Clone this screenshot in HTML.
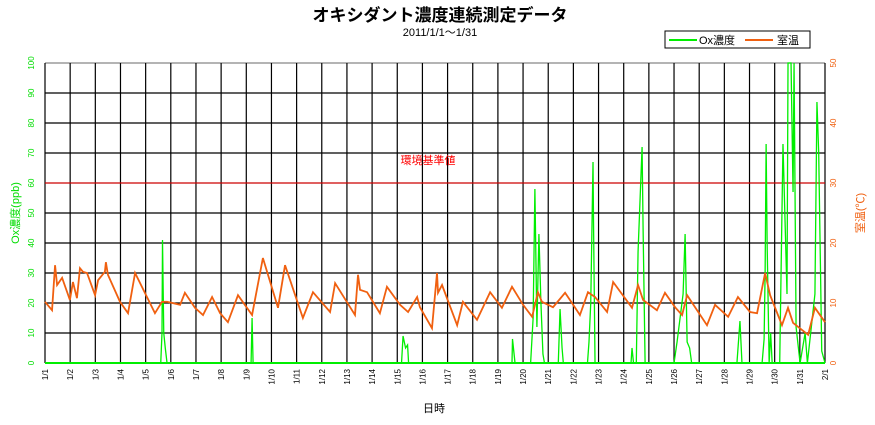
<!DOCTYPE html>
<html><head><meta charset="utf-8"><style>
body{margin:0;background:#fff;width:875px;height:420px;overflow:hidden;font-family:"Liberation Sans","Noto Sans CJK JP",sans-serif}
</style></head><body>
<svg id="c" width="875" height="420" xmlns="http://www.w3.org/2000/svg" style="font-family:'Liberation Sans','Noto Sans CJK JP',sans-serif">
<text x="440" y="21" text-anchor="middle" font-size="17" font-weight="bold">オキシダント濃度連続測定データ</text>
<text x="440" y="36" text-anchor="middle" font-size="11">2011/1/1～1/31</text>
<g>
<rect x="665" y="31" width="145" height="17" fill="#fff" stroke="#000"/>
<line x1="669" y1="40" x2="697" y2="40" stroke="#00ee00" stroke-width="2"/>
<text x="699" y="44" font-size="11">Ox濃度</text>
<line x1="745" y1="40" x2="773" y2="40" stroke="#f06010" stroke-width="2"/>
<text x="777" y="44" font-size="11">室温</text>
</g>
<text x="434" y="412" text-anchor="middle" font-size="11">日時</text>
<text transform="translate(19,213) rotate(-90)" text-anchor="middle" font-size="11" fill="#00dd00">Ox濃度(ppb)</text>
<text transform="translate(864,213) rotate(-90)" text-anchor="middle" font-size="11" fill="#f06010">室温(℃)</text>
<g id="plot"></g>
</svg>
<script>
const tempTimes=[0,.28,.40,.48,.68,.99,1.11,1.27,1.39,1.51,1.67,1.99,2.11,2.38,2.42,2.50,2.98,3.30,3.58,4.37,4.65,4.85,5.37,5.56,5.96,6.28,6.64,6.96,7.27,7.67,8.23,8.66,9.26,9.54,10.25,10.65,11.33,11.53,12.32,12.44,12.52,12.80,13.31,13.59,14.11,14.43,14.79,14.90,15.38,15.58,15.62,15.78,16.38,16.61,17.17,17.69,18.16,18.56,19.00,19.36,19.59,19.75,20.19,20.67,20.99,21.26,21.58,21.86,22.34,22.58,23.33,23.57,23.77,24.32,24.64,25.04,25.32,25.52,26.31,26.63,27.15,27.54,28.02,28.30,28.62,28.82,29.29,29.53,29.73,30.33,30.60,31];
const tempValues=[10.2,8.8,16.3,13,14.2,10.5,13.5,10.8,15.8,15.2,15,11.3,13.8,15.2,16.8,14.7,10.2,8.3,15,8.3,10.2,10.2,9.7,11.7,9.2,8,11,8.3,6.8,11.3,8,17.5,9.2,16.3,7.5,11.8,8.5,13.3,8,14.7,12.2,11.8,8.3,12.7,9.7,8.5,11,9.3,5.8,15,11.7,13,6.3,10.2,7.2,11.8,9.2,12.7,9.7,7.7,11.8,10.2,9.3,11.7,9.7,8,11.8,11,8.5,13.5,9.2,13,10.5,8.8,11.7,9.3,8,11.3,6.3,9.7,7.7,11,8.5,8.3,15,11.3,6.3,9.2,6.7,4.7,9.2,6.8];
const oxTimes=[0,4.60,4.65,4.67,4.72,4.78,4.85,8.19,8.23,8.27,14.17,14.23,14.33,14.41,14.45,18.56,18.58,18.68,19.30,19.40,19.47,19.55,19.63,19.71,19.79,19.85,20.40,20.47,20.55,20.60,21.56,21.62,21.69,21.78,21.80,21.86,23.29,23.33,23.39,23.50,23.57,23.73,23.77,23.85,25.0,25.12,25.36,25.44,25.52,25.62,25.70,27.50,27.62,27.70,28.50,28.58,28.62,28.66,28.70,28.78,28.84,28.90,29.20,29.33,29.49,29.53,29.65,29.73,29.77,29.85,30.01,30.21,30.30,30.60,30.68,30.75,30.87,31];
const oxValues=[0,0,10,41,10,5,0,0,15,0,0,9,5,6,0,0,8,0,0,15,58,12,43,20,3,0,0,18,5,0,0,7,20,67,47,0,0,5,0,0,37,72,45,0,0,7,23,43,7,5,0,0,14,0,0,8,30,73,40,0,10,0,0,73,23,100,100,57,100,12,0,10,0,23,87,70,4,0];
const dayLabels=["1/1","1/2","1/3","1/4","1/5","1/6","1/7","1/8","1/9","1/10","1/11","1/12","1/13","1/14","1/15","1/16","1/17","1/18","1/19","1/20","1/21","1/22","1/23","1/24","1/25","1/26","1/27","1/28","1/29","1/30","1/31","2/1"];
const oxTicks=[0,10,20,30,40,50,60,70,80,90,100];
const tempTicks=[0,10,20,30,40,50];
const standardValue=60;
const L=45,R=825,T=63,B=363,ND=31;
const xs=t=>L+(R-L)*t/ND, yo=v=>B-(B-T)*v/100, yt=v=>B-(B-T)*v/50;
const g=document.getElementById('plot'),NS="http://www.w3.org/2000/svg";
function mk(tag,a,p){const e=document.createElementNS(NS,tag);for(const k in a)e.setAttribute(k,a[k]);(p||g).appendChild(e);return e;}
oxTicks.forEach(v=>{const l=mk('line',{x1:L,x2:R,y1:yo(v),y2:yo(v),stroke:v==100?'#888':'#000','stroke-width':1.2});


const t=mk('text',{transform:`translate(${L-11},${yo(v)}) rotate(-90)`,'text-anchor':'middle','font-size':8,fill:'#00dd00'});t.textContent=v;

});
tempTicks.forEach(v=>{const t=mk('text',{transform:`translate(${R+11},${yt(v)}) rotate(-90)`,'text-anchor':'middle','font-size':8,fill:'#f06010'});t.textContent=v;

});
dayLabels.forEach((d,i)=>{const l=mk('line',{x1:xs(i),x2:xs(i),y1:T,y2:B,stroke:'#000','stroke-width':1.2});


const t=mk('text',{transform:`translate(${xs(i)+3},${B+6}) rotate(-90)`,'text-anchor':'end','font-size':8});t.textContent=d;

});
const sl=mk('line',{x1:L,x2:R,y1:yo(standardValue),y2:yo(standardValue),stroke:'#ff0000','stroke-width':1});


const st=mk('text',{x:428,y:yo(standardValue)-19,'text-anchor':'middle','font-size':11,fill:'#ff0000'});st.textContent='環境基準値';


const ox=mk('polyline',{points:oxTimes.map((t,i)=>xs(t)+','+yo(oxValues[i])).join(' '),fill:'none',stroke:'#00ee00','stroke-width':1.3});


const base=mk('line',{x1:L,x2:R,y1:B,y2:B,stroke:'#00ee00','stroke-width':2});


const tp=mk('polyline',{points:tempTimes.map((t,i)=>xs(t)+','+yt(tempValues[i])).join(' '),fill:'none',stroke:'#f06010','stroke-width':1.8});


</script>
</body></html>
